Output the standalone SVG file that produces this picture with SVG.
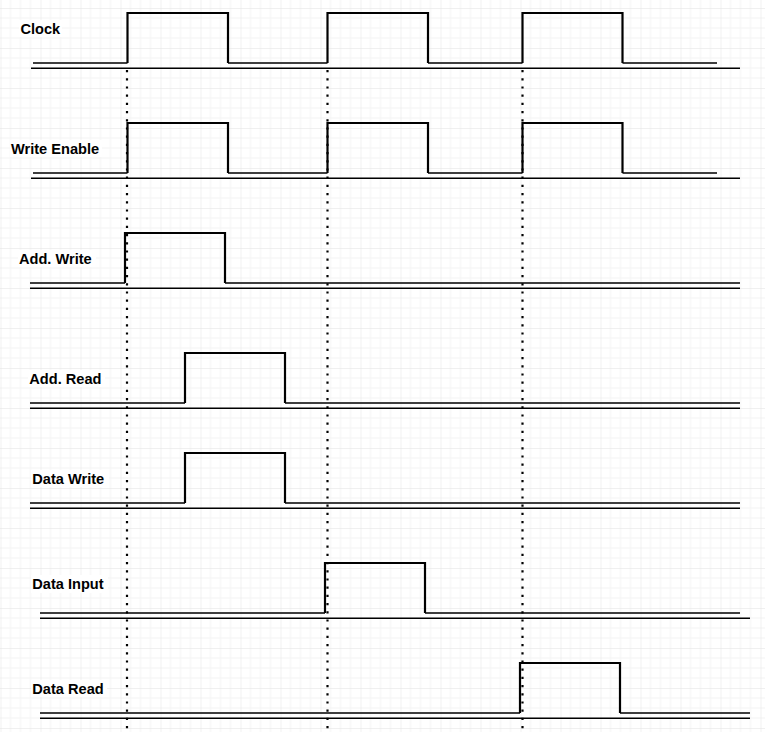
<svg xmlns="http://www.w3.org/2000/svg" width="765" height="732" viewBox="0 0 765 732">
<defs>
<pattern id="grid" patternUnits="userSpaceOnUse" x="0.5" y="8" width="40" height="40">
<path d="M10 0V40M20 0V40M30 0V40M0 10H40M0 20H40M0 30H40" stroke="#f3f3f3" stroke-width="1" fill="none"/>
<path d="M0 0V40M0 0H40" stroke="#e2e2e2" stroke-width="1" fill="none"/>
</pattern>
</defs>
<style>
.lbl{font-family:"Liberation Sans",Arial,sans-serif;font-weight:bold;font-size:14.6px;fill:#000}
.lo{stroke:#000;stroke-width:1.5;fill:none}
.hi{stroke:#000;stroke-width:2.2;fill:none;stroke-linejoin:miter}
.dot{stroke:#000;stroke-width:2.2;stroke-dasharray:2.2 6;fill:none}
.bg{fill:#fff}
</style>
<rect width="765" height="732" fill="#fff"/>
<rect width="765" height="732" fill="url(#grid)"/>

<g id="connectors">
<line class="dot" x1="127" y1="70" x2="127" y2="732"/>
<line class="dot" x1="327.5" y1="70" x2="327.5" y2="732"/>
<line class="dot" x1="522.5" y1="70" x2="522.5" y2="732"/>
</g>

<g id="clock">
<rect class="bg" x="19" y="20" width="43" height="17"/>
<text class="lbl" x="20.5" y="33.5">Clock</text>
<path class="lo" d="M33 63H127.5M228 63H327.5M428 63H522.5M622.5 63H717"/>
<path class="hi" d="M127.5 63V13H228V63M327.5 63V13H428V63M522.5 63V13H622.5V63"/>
<line class="lo" x1="31" y1="68.3" x2="740" y2="68.3"/>
</g>

<g id="write-enable">
<rect class="bg" x="10" y="140" width="92" height="17"/>
<text class="lbl" x="11" y="153.5">Write Enable</text>
<path class="lo" d="M33 173H127.5M228 173H327.5M428 173H522.5M622.5 173H717"/>
<path class="hi" d="M127.5 173V123H228V173M327.5 173V123H428V173M522.5 173V123H622.5V173"/>
<line class="lo" x1="31" y1="178.3" x2="740" y2="178.3"/>
</g>

<g id="add-write">
<rect class="bg" x="18" y="250" width="78" height="17"/>
<text class="lbl" x="19" y="263.5">Add. Write</text>
<path class="lo" d="M30 283H125M225 283H740"/>
<path class="hi" d="M125 283V233H225V283"/>
<line class="lo" x1="30" y1="288.3" x2="740" y2="288.3"/>
</g>

<g id="add-read">
<rect class="bg" x="28" y="370" width="77" height="17"/>
<text class="lbl" x="29.3" y="383.5">Add. Read</text>
<path class="lo" d="M30 403H185M285 403H740"/>
<path class="hi" d="M185 403V353H285V403"/>
<line class="lo" x1="30" y1="408.3" x2="740" y2="408.3"/>
</g>

<g id="data-write">
<rect class="bg" x="31" y="470" width="78" height="17"/>
<text class="lbl" x="32.3" y="483.5">Data Write</text>
<path class="lo" d="M30 503H185M285 503H740"/>
<path class="hi" d="M185 503V453H285V503"/>
<line class="lo" x1="30" y1="508.3" x2="740" y2="508.3"/>
</g>

<g id="data-input">
<rect class="bg" x="31" y="575" width="77" height="18"/>
<text class="lbl" x="32.3" y="588.5">Data Input</text>
<path class="lo" d="M40 613H325M425 613H740"/>
<path class="hi" d="M325 613V563H425V613"/>
<line class="lo" x1="40" y1="618.3" x2="750" y2="618.3"/>
</g>

<g id="data-read">
<rect class="bg" x="31" y="680" width="76" height="17"/>
<text class="lbl" x="32.3" y="693.5">Data Read</text>
<path class="lo" d="M40 713H520M620 713H750"/>
<path class="hi" d="M520 713V663H620V713"/>
<line class="lo" x1="40" y1="718.3" x2="750" y2="718.3"/>
</g>
</svg>
